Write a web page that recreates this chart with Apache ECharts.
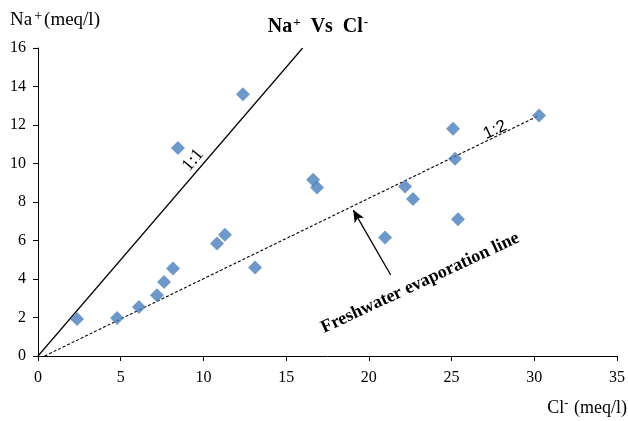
<!DOCTYPE html>
<html><head><meta charset="utf-8">
<script src="https://cdn.jsdelivr.net/npm/echarts/dist/echarts.min.js"></script>
<style>html,body{margin:0;padding:0;background:#fff}#c{width:628px;height:421px}</style>
</head><body><div id="c"></div>
<script>
// Data
const clValues = [2.36,4.78,6.1,7.19,7.62,8.16,8.46,10.82,11.3,12.39,13.12,16.63,16.87,20.98,22.19,22.67,25.09,25.21,25.39,30.29];
const naValues = [1.92,1.97,2.55,3.15,3.85,4.55,10.8,5.85,6.3,13.6,4.6,9.15,8.75,6.15,8.8,8.15,11.8,10.25,7.1,12.5];
// reference lines
const line11X = [0, 16];
const line11Y = [0, 16];
const line12X = [0.4, 30.3];
const line12Y = [0, 12.5];
// arrow (from -> to) in data units
const arrowFrom = [21.32, 4.21];
const arrowTo = [19.06, 7.58];
// annotation anchors in data units
const label11Pos = [9.37, 10.18];
const label12Pos = [27.63, 11.74];
const labelFreshPos = [23.1, 3.79];

const FONT = '"Liberation Serif","Times New Roman",serif';
const chart = echarts.init(document.getElementById('c'), null, {renderer:'canvas'});

const pts = clValues.map((x,i)=>[x, naValues[i]]);
const opt = {
  animation:false,
  backgroundColor:'#fff',
  grid:{left:38, right:11, top:48, bottom:65, containLabel:false},
  xAxis:{type:'value', min:0, max:35, interval:5,
    axisLine:{show:true, onZero:false, lineStyle:{color:'#000', width:1}},
    axisTick:{show:true, length:5, lineStyle:{color:'#000'}},
    axisLabel:{color:'#000', fontFamily:FONT, fontSize:16, margin:14},
    splitLine:{show:false}},
  yAxis:{type:'value', min:0, max:16, interval:2,
    axisLine:{show:true, onZero:false, lineStyle:{color:'#000', width:1}},
    axisTick:{show:true, length:5, lineStyle:{color:'#000'}},
    axisLabel:{color:'#000', fontFamily:FONT, fontSize:16, margin:12},
    splitLine:{show:false}},
  series:[
    {type:'line', data:line11X.map((x,i)=>[x,line11Y[i]]), symbol:'none', silent:true,
     lineStyle:{color:'#000', width:1.2}, z:2},
    {type:'line', data:line12X.map((x,i)=>[x,line12Y[i]]), symbol:'none', silent:true,
     lineStyle:{color:'#000', width:1.1, type:[3,2]}, z:2,
     markLine:{silent:true, symbol:['none','arrow'], symbolSize:[8,12],
       label:{show:false},
       lineStyle:{color:'#000', width:1.3, type:'solid'},
       data:[[{coord:arrowFrom},{coord:arrowTo}]]}},
    {type:'scatter', data:pts, symbol:'diamond', symbolSize:14,
     itemStyle:{color:'#4a7ebb'}, z:5}
  ]
};
chart.setOption(opt);

function px(p){ return chart.convertToPixel({gridIndex:0}, p); }
const a11 = px(label11Pos), a12 = px(label12Pos), aF = px(labelFreshPos);
const deg = Math.PI/180;
chart.setOption({graphic:[
  {type:'text', x:318, y:16, style:{
    text:'{a|Na}{s|+}{a|  Vs  Cl}{s|-}', fill:'#000', align:'center',
    rich:{a:{fontFamily:FONT, fontSize:20, fontWeight:'bold', fill:'#000'},
          s:{fontFamily:FONT, fontSize:13, fontWeight:'bold', fill:'#000', padding:[0,0,9,1]}}}},
  {type:'text', x:10, y:9, style:{
    text:'{a|Na}{s|+}{a|(meq/l)}', fill:'#000',
    rich:{a:{fontFamily:FONT, fontSize:19, fill:'#000'},
          s:{fontFamily:FONT, fontSize:14, fill:'#000', padding:[0,2,9,2]}}}},
  {type:'text', x:627, y:397, style:{
    text:'{a|Cl}{s|-}{a| (meq/l)}', fill:'#000', align:'right',
    rich:{a:{fontFamily:FONT, fontSize:18, fill:'#000'},
          s:{fontFamily:FONT, fontSize:13, fill:'#000', padding:[0,1,9,0]}}}},
  {type:'text', x:a11[0], y:a11[1], rotation:50*deg, style:{
    text:'1:1', fontFamily:FONT, fontSize:18, fill:'#000', align:'center', verticalAlign:'middle'}},
  {type:'text', x:a12[0], y:a12[1], rotation:25*deg, style:{
    text:'1:2', fontFamily:'"Liberation Sans",Arial,sans-serif', fontSize:17, fill:'#000', align:'center', verticalAlign:'middle'}},
  {type:'text', x:aF[0], y:aF[1], rotation:25*deg, style:{
    text:'Freshwater evaporation line', fontFamily:FONT, fontSize:18, fontWeight:'bold', fill:'#000', align:'center', verticalAlign:'middle'}}
]});
</script>
</body></html>
